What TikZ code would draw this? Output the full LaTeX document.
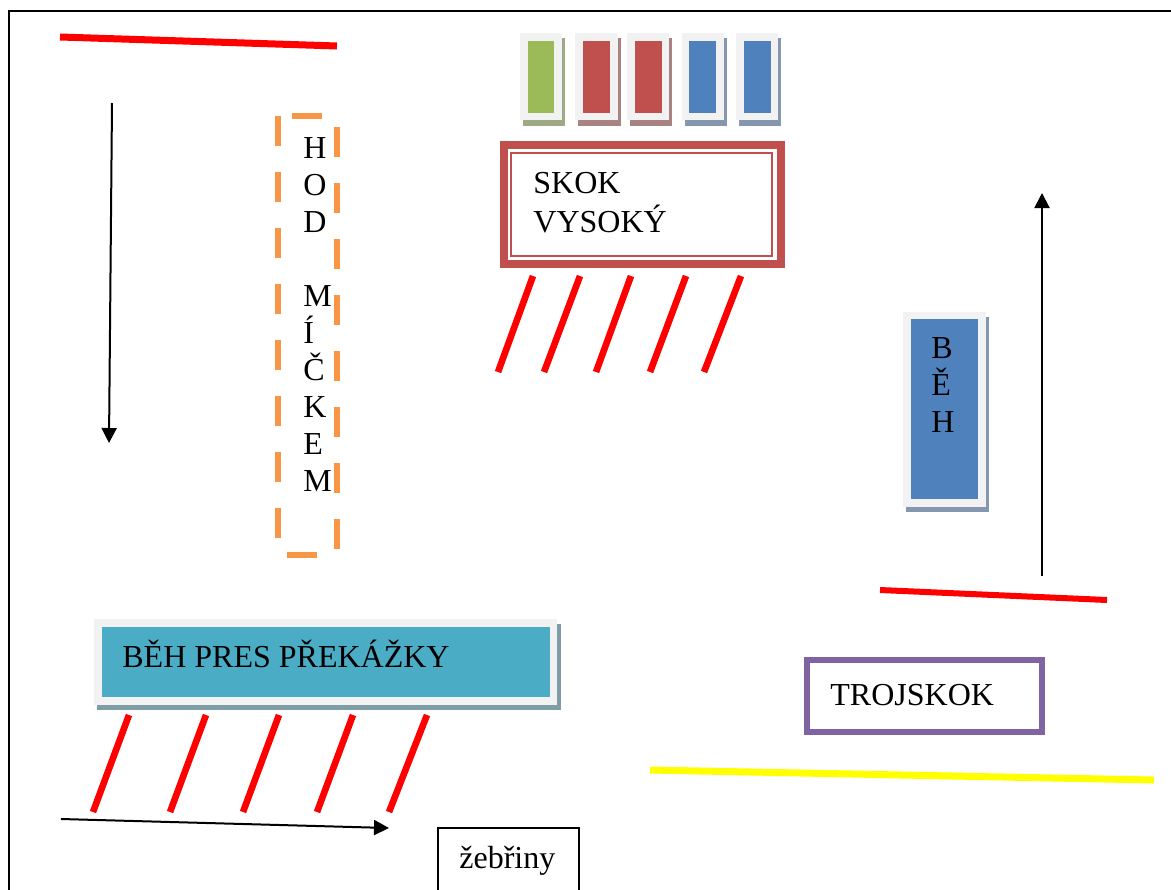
\documentclass[tikz,border=0pt]{standalone}
\usepackage{fontspec}
\setmainfont{Liberation Serif}
\usetikzlibrary{arrows.meta, positioning}
\definecolor{barred}{HTML}{FF0000}
\definecolor{baryellow}{HTML}{FFFF00}
\definecolor{skokred}{HTML}{C0504D}
\definecolor{matgreen}{HTML}{9BBB59}
\definecolor{matblue}{HTML}{4F81BD}
\definecolor{matteal}{HTML}{4BACC6}
\definecolor{hodorange}{HTML}{F79646}
\definecolor{trojpurple}{HTML}{8064A2}
\definecolor{cardgray}{HTML}{F2F2F2}
\definecolor{shgreen}{HTML}{9DAA84}
\definecolor{shred}{HTML}{A98283}
\definecolor{shblue}{HTML}{8597AE}
\definecolor{shteal}{HTML}{7F9DA6}

\begin{document}
\begin{tikzpicture}[x=0.5pt, y=-0.5pt,
    every node/.style={font=\fontsize{16}{18.5}\selectfont, inner sep=0pt},
    hatch/.style={draw=barred, line width=3.3pt},
    arr/.style={line width=1pt, -{Triangle[length=7.5pt,width=7.5pt]}}]
                \useasboundingbox (0,0) rectangle (1171,889);
                \clip (0,0) rectangle (1171,889);
                % frame
                \draw[line width=1pt] (9,900) -- (9,11) -- (1180,11);
                % red and yellow bars
                \draw[barred, line width=3.5pt] (60,37) -- (337,46);
                \draw[barred, line width=3pt] (880,590) -- (1107,600);
                \draw[baryellow, line width=3.5pt] (650,770) -- (1154,780);
                % mats above high jump
                \fill[shgreen] (523,38) rectangle (565,126);
                \fill[cardgray] (520,33) rectangle (562,120);
                \fill[matgreen] (528,41) rectangle (554,113);
                \fill[shred] (578,38) rectangle (621,126);
                \fill[cardgray] (575,33) rectangle (618,120);
                \fill[skokred] (583,41) rectangle (610,113);
                \fill[shred] (630,38) rectangle (672,126);
                \fill[cardgray] (627,33) rectangle (669,120);
                \fill[skokred] (635,41) rectangle (662,113);
                \fill[shblue] (685,38) rectangle (727,126);
                \fill[cardgray] (682,33) rectangle (724,120);
                \fill[matblue] (689,41) rectangle (716,113);
                \fill[shblue] (739,38) rectangle (781,126);
                \fill[cardgray] (736,33) rectangle (778,120);
                \fill[matblue] (744,41) rectangle (771,113);
                % skok vysoky
                \draw[skokred, line width=4pt] (504,145) rectangle (781,264);
                \draw[skokred, line width=1pt] (511,153) rectangle (772,256);
                \node[anchor=base west] (skok) at (533,193) {SKOK};
                \node[anchor=base west] (vysoky) at (533,232) {VYSOKÝ};
                \draw[hatch] (533,276) -- (498,372);
                \draw[hatch] (580,276) -- (544,372);
                \draw[hatch] (631,276) -- (596,372);
                \draw[hatch] (686,276) -- (650,372);
                \draw[hatch] (741,276) -- (704,372);
                % hod mickem
                \draw[hodorange, line width=3pt, dash pattern=on 15pt off 13pt] (278,116) rectangle (337,555);
                \node[anchor=north west, align=left] (hod) at (303,137) {H\\O\\D\\[18.5pt]M\\Í\\Č\\K\\E\\M};
                % beh
                \fill[shblue] (906,317) rectangle (989,512);
                \fill[cardgray] (903,312) rectangle (986,507);
                \fill[matblue] (911,319) rectangle (978,499);
                \node[anchor=north west, align=left] (beh) at (931,337) {B\\Ě\\H};
                % beh pres prekazky
                \fill[shteal] (97,624) rectangle (561,710);
                \fill[cardgray] (94,619) rectangle (557,705);
                \fill[matteal] (102,627) rectangle (550,697);
                \node[anchor=base west] (prekazky) at (122,667) {BĚH PRES PŘEKÁŽKY};
                \draw[hatch] (129,715) -- (93,812);
                \draw[hatch] (206,715) -- (170,812);
                \draw[hatch] (279,715) -- (243,812);
                \draw[hatch] (353,715) -- (317,812);
                \draw[hatch] (427,715) -- (389,812);
                % trojskok
                \draw[trojpurple, line width=3pt] (807,660) rectangle (1042,732);
                \node[anchor=base west] (troj) at (830,705) {TROJSKOK};
                % zebriny
                \draw[line width=0.6pt] (438,900) -- (438,828) -- (579,828) -- (579,900);
                \node[anchor=base west] (zebr) at (459,868) {žebřiny};
                % arrows
                \coordinate (downa) at (112,103);
                \coordinate (downb) at (109,443);
                \draw[arr] (downa) -- (downb);
                \coordinate (upa) at (1042,576);
                \coordinate (upb) at (1042,193);
                \draw[arr] (upa) -- (upb);
                \coordinate (runa) at (61,819);
                \coordinate (runb) at (389,828);
                \draw[arr] (runa) -- (runb);
            \end{tikzpicture}
\end{document}
